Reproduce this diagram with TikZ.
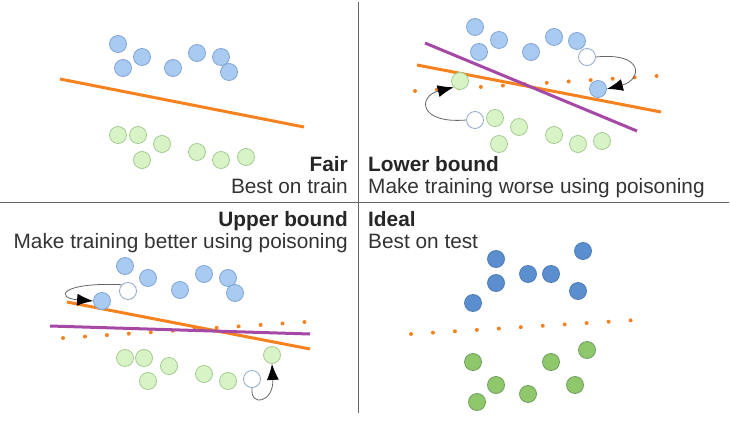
\documentclass[tikz,border=0pt]{standalone}
\usepackage{fontspec}
\setmainfont{Liberation Sans}
\usepackage{tikz}
\usetikzlibrary{arrows.meta}
\definecolor{PtBlue}{HTML}{A9CBF2}
\definecolor{PtBlueEdge}{HTML}{7FA6D6}
\definecolor{PtGreen}{HTML}{D8F4C6}
\definecolor{PtGreenEdge}{HTML}{A5CC93}
\definecolor{TestBlue}{HTML}{5B8ECF}
\definecolor{TestBlueEdge}{HTML}{4F7DB6}
\definecolor{TestGreen}{HTML}{8FC86B}
\definecolor{TestGreenEdge}{HTML}{6F9E5E}
\definecolor{LineOrange}{HTML}{F5821F}
\definecolor{LinePurple}{HTML}{A548A6}
\definecolor{PoisonEdge}{HTML}{8FA9CC}

\begin{document}
\begin{tikzpicture}[x=1pt, y=-1pt,
  pt/.style={circle, draw, line width=0.8pt, minimum size=17pt, inner sep=0pt},
  trainb/.style={pt, fill=PtBlue, draw=PtBlueEdge},
  traing/.style={pt, fill=PtGreen, draw=PtGreenEdge},
  testb/.style={pt, fill=TestBlue, draw=TestBlueEdge},
  testg/.style={pt, fill=TestGreen, draw=TestGreenEdge},
  poison/.style={pt, fill=white, draw=PoisonEdge},
  fit line/.style={line width=3pt, color=LineOrange},
  bad line/.style={line width=3pt, color=LinePurple},
  best line/.style={line width=4pt, color=LineOrange, line cap=round,
                    dash pattern=on 0pt off 22pt},
  move/.style={-{Latex[length=16pt,width=12pt,black]}, color=black!60,
               line width=0.8pt},
  title/.style={font=\fontsize{20.8pt}{23pt}\selectfont\bfseries, text=black!85,
                inner sep=0pt},
  note/.style={font=\fontsize{20.8pt}{23pt}\selectfont, text=black!80,
               inner sep=0pt}
]
  \useasboundingbox (0,0) rectangle (730,425);

  % frame
  \coordinate (vtop) at (358,2);
  \coordinate (vbot) at (358,413);
  \coordinate (hleft) at (0,202);
  \coordinate (hright) at (729,202);
  \draw[black!60, line width=0.8pt] (vtop) -- (vbot);
  \draw[black!60, line width=0.8pt] (hleft) -- (hright);

  % fair
  \coordinate (f1) at (60,79);
  \coordinate (f2) at (304,127);
  \draw[fit line] (f1) -- (f2);
  \node[trainb] (fb1) at (118,44) {};
  \node[trainb] (fb2) at (142,57) {};
  \node[trainb] (fb3) at (123,68) {};
  \node[trainb] (fb4) at (173,68) {};
  \node[trainb] (fb5) at (197,53) {};
  \node[trainb] (fb6) at (221,57) {};
  \node[trainb] (fb7) at (229,72) {};
  \node[traing] (fg1) at (118,135) {};
  \node[traing] (fg2) at (138,135) {};
  \node[traing] (fg3) at (162,144) {};
  \node[traing] (fg4) at (142,160) {};
  \node[traing] (fg5) at (197,152) {};
  \node[traing] (fg6) at (221,160) {};
  \node[traing] (fg7) at (246,157) {};
  \node[title, anchor=base east] (fairT) at (348,171) {Fair};
  \node[note, anchor=base east] (fairN) at (348,193) {Best on train};

  % lower bound
  \coordinate (l1) at (415,91);
  \coordinate (l2) at (657,76);
  \coordinate (lo1) at (417,65);
  \coordinate (lo2) at (661,112);
  \coordinate (lp1) at (425,43);
  \coordinate (lp2) at (637,131);
  \draw[best line] (l1) -- (l2);
  \draw[fit line] (lo1) -- (lo2);
  \draw[bad line] (lp1) -- (lp2);
  \node[trainb] (lb1) at (475,27) {};
  \node[trainb] (lb2) at (499,40) {};
  \node[trainb] (lb3) at (479,52) {};
  \node[trainb] (lb4) at (531,52) {};
  \node[trainb] (lb5) at (554,37) {};
  \node[trainb] (lb6) at (577,41) {};
  \node[trainb] (lb7) at (598,89) {};
  \node[poison] (lw1) at (587,57) {};
  \node[traing] (lg1) at (460,81) {};
  \node[traing] (lg2) at (495,118) {};
  \node[traing] (lg3) at (519,127) {};
  \node[traing] (lg4) at (499,144) {};
  \node[traing] (lg5) at (554,135) {};
  \node[traing] (lg6) at (578,144) {};
  \node[traing] (lg7) at (602,141) {};
  \node[poison] (lw2) at (475,120) {};
  \draw[move] (lw1.east) .. controls (645,52) and (642,80) .. (lb7.east);
  \draw[move] (lw2.west) .. controls (418,124) and (418,96) .. (lg1.south west);
  \node[title, anchor=base west] (lowT) at (368,171) {Lower bound};
  \node[note, anchor=base west] (lowN) at (368,193)
    {Make training worse using poisoning};

  % upper bound
  \coordinate (u1) at (63,338);
  \coordinate (u2) at (305,322);
  \coordinate (uo1) at (67,302);
  \coordinate (uo2) at (310,349);
  \coordinate (up1) at (50,326);
  \coordinate (up2) at (310,334);
  \draw[best line] (u1) -- (u2);
  \draw[fit line] (uo1) -- (uo2);
  \draw[bad line] (up1) -- (up2);
  \node[trainb] (ub1) at (125,266) {};
  \node[trainb] (ub2) at (148,278) {};
  \node[trainb] (ub3) at (180,290) {};
  \node[trainb] (ub4) at (204,274) {};
  \node[trainb] (ub5) at (228,278) {};
  \node[trainb] (ub6) at (235,293) {};
  \node[trainb] (ub7) at (102,301) {};
  \node[poison] (uw1) at (128,291) {};
  \node[traing] (ug1) at (125,358) {};
  \node[traing] (ug2) at (144,358) {};
  \node[traing] (ug3) at (169,366) {};
  \node[traing] (ug4) at (148,381) {};
  \node[traing] (ug5) at (204,374) {};
  \node[traing] (ug6) at (228,381) {};
  \node[traing] (ug7) at (272,355) {};
  \node[poison] (uw2) at (252,379) {};
  \draw[move] (uw1.north west) .. controls (60,282) and (55,298) .. (ub7.west);
  \draw[move] (uw2.south) .. controls (250,408) and (274,402) .. (ug7.south);
  \node[title, anchor=base east] (upT) at (348,226) {Upper bound};
  \node[note, anchor=base east] (upN) at (348,248)
    {Make training better using poisoning};

  % ideal
  \coordinate (i1) at (411,334);
  \coordinate (i2) at (652,319);
  \draw[best line] (i1) -- (i2);
  \node[testb] (ib1) at (496,259) {};
  \node[testb] (ib2) at (496,283) {};
  \node[testb] (ib3) at (473,303) {};
  \node[testb] (ib4) at (528,274) {};
  \node[testb] (ib5) at (551,274) {};
  \node[testb] (ib6) at (583,251) {};
  \node[testb] (ib7) at (578,291) {};
  \node[testg] (ig1) at (473,362) {};
  \node[testg] (ig2) at (496,385) {};
  \node[testg] (ig3) at (477,402) {};
  \node[testg] (ig4) at (528,394) {};
  \node[testg] (ig5) at (551,362) {};
  \node[testg] (ig6) at (587,350) {};
  \node[testg] (ig7) at (575,385) {};
  \node[title, anchor=base west] (idealT) at (368,226) {Ideal};
  \node[note, anchor=base west] (idealN) at (368,248) {Best on test};
\end{tikzpicture}
\end{document}
